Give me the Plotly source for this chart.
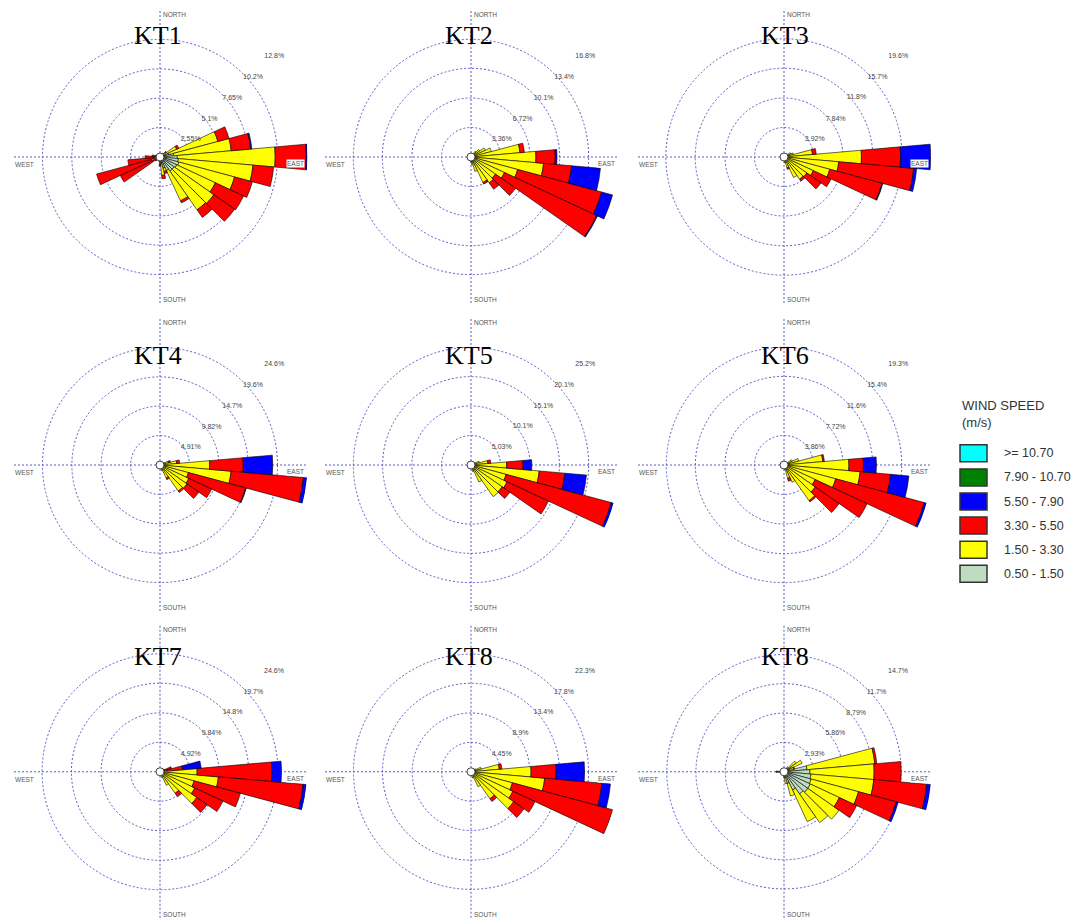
import plotly.graph_objects as go

# ---------------------------------------------------------------------------
# Wind speed classes (m/s) and their colours, listed from fastest to slowest
# ---------------------------------------------------------------------------
SPEED_LABELS = [">= 10.70", "7.90 - 10.70", "5.50 - 7.90", "3.30 - 5.50", "1.50 - 3.30", "0.50 - 1.50"]
SPEED_COLORS = ["#00FFFF", "#008000", "#0000FF", "#FF0000", "#FFFF00", "#C0DCC0"]

TITLES = ["KT1", "KT2", "KT3", "KT4", "KT5", "KT6", "KT7", "KT8", "KT8"]
COMPASS = ["NORTH", "EAST", "SOUTH", "WEST"]

# Frequency rings (%) of each rose
KT1_RINGS = [2.55, 5.1, 7.65, 10.2, 12.8]
KT2_RINGS = [3.36, 6.72, 10.1, 13.4, 16.8]
KT3_RINGS = [3.92, 7.84, 11.8, 15.7, 19.6]
KT4_RINGS = [4.91, 9.82, 14.7, 19.6, 24.6]
KT5_RINGS = [5.03, 10.1, 15.1, 20.1, 25.2]
KT6_RINGS = [3.86, 7.72, 11.6, 15.4, 19.3]
KT7_RINGS = [4.92, 9.84, 14.8, 19.7, 24.6]
KT8_RINGS = [4.45, 8.9, 13.4, 17.8, 22.3]
KT8B_RINGS = [2.93, 5.86, 8.79, 11.7, 14.7]

# Direction sectors (deg, blowing from) and frequency (%) per speed class
# G: 0.50-1.50, Y: 1.50-3.30, R: 3.30-5.50, B: 5.50-7.90
KT1_DIR = [40, 50, 60, 70, 80, 90, 100, 110, 120, 130, 140, 150, 160, 170, 180, 190, 200, 230, 240, 250, 260, 270, 280, 290]
KT1_G = [0.1, 0.2, 0.4, 0.8, 1.2, 1.5, 1.6, 1.7, 1.6, 1.5, 1.5, 1.3, 1.0, 0.6, 0.3, 0.2, 0.1, 0.1, 0.2, 0.2, 0.2, 0.2, 0.1, 0.1]
KT1_Y = [0.2, 0.4, 1.2, 4.4, 5.0, 8.5, 6.5, 5.0, 3.7, 4.2, 4.1, 2.9, 0.3, 1.0, 0.3, 0.2, 0.2, 0.2, 0.3, 0.6, 0.4, 0.3, 0.2, 0.1]
KT1_R = [0.1, 0.1, 0.2, 1.0, 1.7, 2.7, 1.8, 1.6, 2.7, 2.2, 0.8, 0.2, 0.2, 0.3, 0.2, 0.0, 0.0, 0.2, 3.3, 4.9, 2.2, 0.8, 0.4, 0.2]
KT1_B = [0.0, 0.0, 0.0, 0.0, 0.1, 0.1, 0.0, 0.0, 0.0, 0.0, 0.0, 0.0, 0.0, 0.0, 0.0, 0.0, 0.0, 0.0, 0.0, 0.0, 0.0, 0.0, 0.0, 0.0]

KT2_DIR = [40, 50, 60, 70, 80, 90, 100, 110, 120, 130, 140, 150, 160, 170, 180, 190]
KT2_G = [0.1, 0.2, 0.3, 0.3, 0.4, 0.4, 0.4, 0.4, 0.4, 0.4, 0.4, 0.3, 0.3, 0.2, 0.2, 0.1]
KT2_Y = [0.7, 1.0, 1.5, 2.1, 5.2, 7.0, 7.9, 5.1, 3.8, 3.0, 3.2, 2.9, 1.4, 0.7, 0.4, 0.3]
KT2_R = [0.0, 0.0, 0.0, 0.0, 0.5, 2.2, 3.2, 9.9, 11.6, 2.8, 0.9, 0.2, 0.0, 0.0, 0.0, 0.0]
KT2_B = [0.0, 0.0, 0.0, 0.0, 0.0, 0.2, 3.3, 1.3, 0.1, 0.0, 0.0, 0.0, 0.0, 0.0, 0.0, 0.0]

KT3_DIR = [50, 60, 70, 80, 90, 100, 110, 120, 130, 140, 150, 160, 170]
KT3_G = [0.1, 0.2, 0.2, 0.3, 0.3, 0.3, 0.3, 0.3, 0.3, 0.3, 0.2, 0.2, 0.1]
KT3_Y = [0.5, 0.8, 1.1, 3.5, 10.0, 7.0, 6.0, 4.0, 3.4, 3.3, 2.8, 1.3, 0.7]
KT3_R = [0.0, 0.0, 0.0, 0.5, 5.2, 10.0, 7.2, 2.6, 2.3, 0.3, 0.0, 0.2, 0.0]
KT3_B = [0.0, 0.0, 0.0, 0.0, 4.0, 0.4, 0.1, 0.0, 0.0, 0.0, 0.0, 0.0, 0.0]

KT4_DIR = [60, 70, 80, 90, 100, 110, 120, 130, 140, 150, 160]
KT4_G = [0.2, 0.2, 0.3, 0.3, 0.3, 0.3, 0.3, 0.3, 0.3, 0.2, 0.1]
KT4_Y = [0.6, 1.3, 2.5, 8.0, 11.6, 4.6, 5.0, 5.2, 5.0, 2.2, 0.9]
KT4_R = [0.0, 0.3, 0.5, 5.6, 12.1, 9.9, 4.2, 2.4, 0.3, 0.3, 0.0]
KT4_B = [0.0, 0.0, 0.0, 4.9, 0.6, 0.1, 0.0, 0.0, 0.0, 0.0, 0.0]

KT5_DIR = [60, 70, 80, 90, 100, 110, 120, 130, 140, 150, 160]
KT5_G = [0.1, 0.2, 0.3, 0.3, 0.3, 0.3, 0.3, 0.3, 0.3, 0.2, 0.1]
KT5_Y = [0.7, 1.3, 2.6, 5.8, 11.4, 5.9, 6.5, 6.2, 6.3, 3.0, 1.1]
KT5_R = [0.0, 0.0, 0.5, 2.8, 4.4, 18.6, 7.8, 1.6, 0.0, 0.0, 0.0]
KT5_B = [0.0, 0.0, 0.0, 1.5, 3.7, 0.4, 0.0, 0.0, 0.0, 0.0, 0.0]

KT6_DIR = [60, 70, 80, 90, 100, 110, 120, 130, 140, 150, 160, 170]
KT6_G = [0.2, 0.2, 0.3, 0.3, 0.3, 0.3, 0.3, 0.3, 0.3, 0.2, 0.1, 0.1]
KT6_Y = [1.0, 1.8, 4.8, 8.2, 9.7, 6.7, 4.2, 4.7, 5.4, 2.3, 1.7, 0.5]
KT6_R = [0.0, 0.0, 0.2, 1.9, 4.0, 12.0, 7.5, 3.8, 0.2, 0.0, 0.4, 0.0]
KT6_B = [0.0, 0.0, 0.0, 1.7, 2.4, 0.3, 0.0, 0.0, 0.0, 0.0, 0.0, 0.0]

KT7_DIR = [60, 70, 80, 90, 100, 110, 120, 130, 140, 150, 160]
KT7_G = [0.1, 0.1, 0.2, 0.3, 0.3, 0.3, 0.3, 0.3, 0.3, 0.2, 0.1]
KT7_Y = [0.2, 0.5, 1.0, 5.9, 9.5, 5.6, 6.1, 7.2, 4.1, 2.3, 0.9]
KT7_R = [0.5, 1.4, 2.6, 12.5, 14.2, 8.0, 5.2, 2.1, 0.7, 0.0, 0.0]
KT7_B = [0.0, 0.0, 3.1, 1.6, 0.5, 0.0, 0.0, 0.0, 0.0, 0.0, 0.0]

KT8_DIR = [60, 70, 80, 90, 100, 110, 120, 130, 140, 150, 160]
KT8_G = [0.1, 0.2, 0.3, 0.3, 0.3, 0.3, 0.3, 0.3, 0.3, 0.2, 0.1]
KT8_Y = [0.7, 1.4, 4.0, 8.8, 10.9, 6.2, 6.7, 7.6, 4.7, 2.3, 0.9]
KT8_R = [0.0, 0.0, 0.4, 3.8, 8.7, 15.7, 3.7, 1.9, 0.5, 0.0, 0.0]
KT8_B = [0.0, 0.0, 0.0, 4.3, 1.3, 0.0, 0.0, 0.0, 0.0, 0.0, 0.0]

KT8B_DIR = [40, 50, 60, 70, 80, 90, 100, 110, 120, 130, 140, 150, 160, 170, 180, 260, 270]
KT8B_G = [0.3, 0.6, 0.8, 0.6, 2.3, 2.6, 2.7, 2.8, 2.9, 2.9, 2.7, 2.0, 1.2, 0.6, 0.3, 0.1, 0.1]
KT8B_Y = [0.3, 0.9, 1.2, 0.4, 6.8, 6.4, 6.3, 4.9, 3.2, 3.8, 3.5, 3.5, 1.3, 0.6, 0.3, 0.1, 0.2]
KT8B_R = [0.0, 0.0, 0.0, 0.1, 0.2, 2.7, 5.3, 3.9, 1.9, 0.0, 0.0, 0.0, 0.0, 0.0, 0.0, 0.2, 0.5]
KT8B_B = [0.0, 0.0, 0.0, 0.0, 0.0, 0.0, 0.4, 0.2, 0.0, 0.0, 0.0, 0.0, 0.0, 0.0, 0.0, 0.0, 0.0]

ROSES = [
    (KT1_DIR, [KT1_G, KT1_Y, KT1_R, KT1_B], KT1_RINGS),
    (KT2_DIR, [KT2_G, KT2_Y, KT2_R, KT2_B], KT2_RINGS),
    (KT3_DIR, [KT3_G, KT3_Y, KT3_R, KT3_B], KT3_RINGS),
    (KT4_DIR, [KT4_G, KT4_Y, KT4_R, KT4_B], KT4_RINGS),
    (KT5_DIR, [KT5_G, KT5_Y, KT5_R, KT5_B], KT5_RINGS),
    (KT6_DIR, [KT6_G, KT6_Y, KT6_R, KT6_B], KT6_RINGS),
    (KT7_DIR, [KT7_G, KT7_Y, KT7_R, KT7_B], KT7_RINGS),
    (KT8_DIR, [KT8_G, KT8_Y, KT8_R, KT8_B], KT8_RINGS),
    (KT8B_DIR, [KT8B_G, KT8B_Y, KT8B_R, KT8B_B], KT8B_RINGS),
]

# band colours from slowest (inner) to fastest (outer)
BAND_COLORS = SPEED_COLORS[::-1][:4]

# ---------------------------------------------------------------------------
# Page geometry (pixels)
# ---------------------------------------------------------------------------
W, H = 1075, 919
R_PX = 147.5
COL_X = [160, 471, 784]
ROW_Y = [157, 465, 772]
TITLE_Y = [36, 356, 656]
TITLE_DX = [-2, -2, 1]
GRID = "#5B5BC8"
SMALL_FONT = "Liberation Sans, Arial, sans-serif"

# compass word placement relative to the rose centre: (dx, dy, anchor)
COMPASS_POS = [
    (2, -R_PX + 5, "left"),
    (R_PX - 3, 6, "right"),
    (2, R_PX - 5, "left"),
    (-R_PX + 1, 7, "left"),
]

fig = go.Figure()
polar_layout = {}

for i, (dirs, bands, rings) in enumerate(ROSES):
    row, col = divmod(i, 3)
    sub = "polar" if i == 0 else f"polar{i + 1}"
    cx, cy = COL_X[col], ROW_Y[row]
    rmax = rings[-1]

    # stacked speed bands, innermost first
    for vals, color in zip(bands, BAND_COLORS):
        th = [d for d, v in zip(dirs, vals) if v > 0]
        rv = [v for v in vals if v > 0]
        if not rv:
            continue
        fig.add_trace(go.Barpolar(
            r=rv, theta=th, width=10, subplot=sub,
            marker=dict(color=color, line=dict(color="#000000", width=0.6)),
            showlegend=False, hoverinfo="skip",
        ))

    # ring percentages along the north-east diagonal
    fig.add_trace(go.Scatterpolar(
        r=rings, theta=[45] * len(rings), mode="text", subplot=sub,
        text=[f"{v:g}%" for v in rings], textposition="bottom right",
        textfont=dict(size=7, color="#444444", family=SMALL_FONT),
        cliponaxis=False, showlegend=False, hoverinfo="skip",
    ))

    # calm circle at the centre
    fig.add_trace(go.Scatterpolar(
        r=[0], theta=[0], mode="markers", subplot=sub,
        marker=dict(size=8, color="white", line=dict(color="#444444", width=1)),
        cliponaxis=False, showlegend=False, hoverinfo="skip",
    ))

    polar_layout[sub] = dict(
        domain=dict(
            x=[max(0, (cx - R_PX) / W), min(1, (cx + R_PX) / W)],
            y=[max(0, 1 - (cy + R_PX) / H), min(1, 1 - (cy - R_PX) / H)],
        ),
        bgcolor="white",
        barmode="stack",
        radialaxis=dict(
            range=[0, rmax], tickvals=rings, showticklabels=False, ticks="",
            showline=False, gridcolor=GRID, griddash="2px,2px", gridwidth=1,
            layer="below traces",
        ),
        angularaxis=dict(
            rotation=90, direction="clockwise", tickvals=[0, 90, 180, 270],
            showticklabels=False, ticks="", showline=False,
            gridcolor=GRID, griddash="2px,2px", gridwidth=1, layer="below traces",
        ),
    )

    # compass words on small white boxes just inside the outer ring
    for word, (dx, dy, anchor) in zip(COMPASS, COMPASS_POS):
        fig.add_annotation(
            x=(cx + dx) / W, y=1 - (cy + dy) / H, xref="paper", yref="paper",
            text=word, showarrow=False, xanchor=anchor, yanchor="middle",
            bgcolor="white", borderpad=0,
            font=dict(family=SMALL_FONT, size=6.5, color="#555555"),
        )

    fig.add_annotation(
        x=(cx + TITLE_DX[col]) / W, y=1 - TITLE_Y[row] / H, xref="paper", yref="paper",
        text=TITLES[i], showarrow=False, xanchor="center", yanchor="middle",
        font=dict(family="Liberation Serif, Times New Roman, serif", size=26, color="black"),
    )

fig.update_layout(**polar_layout)

# ---------------------------------------------------------------------------
# Speed legend on the right
# ---------------------------------------------------------------------------
LEG_X, BOX_W, BOX_H = 960, 27, 17
LEG_Y0, LEG_STEP = 453.3, 24.1
fig.add_annotation(
    x=LEG_X / W, y=1 - 414 / H, xref="paper", yref="paper", showarrow=False,
    text="WIND SPEED<br>(m/s)", align="left", xanchor="left", yanchor="middle",
    font=dict(family=SMALL_FONT, size=13, color="#333333"),
)
for k, (lab, colr) in enumerate(zip(SPEED_LABELS, SPEED_COLORS)):
    yc = LEG_Y0 + k * LEG_STEP
    fig.add_shape(
        type="rect", xref="paper", yref="paper",
        x0=LEG_X / W, x1=(LEG_X + BOX_W) / W,
        y0=1 - (yc + BOX_H / 2) / H, y1=1 - (yc - BOX_H / 2) / H,
        fillcolor=colr, line=dict(color="#333333", width=1.5),
    )
    fig.add_annotation(
        x=(LEG_X + 42) / W, y=1 - yc / H, xref="paper", yref="paper", showarrow=False,
        text=lab, xanchor="left", yanchor="middle",
        font=dict(family=SMALL_FONT, size=12.5, color="#333333"),
    )

fig.update_layout(
    width=W, height=H, margin=dict(l=0, r=0, t=0, b=0),
    paper_bgcolor="white", plot_bgcolor="white", showlegend=False,
)

fig.write_html("out.html")
